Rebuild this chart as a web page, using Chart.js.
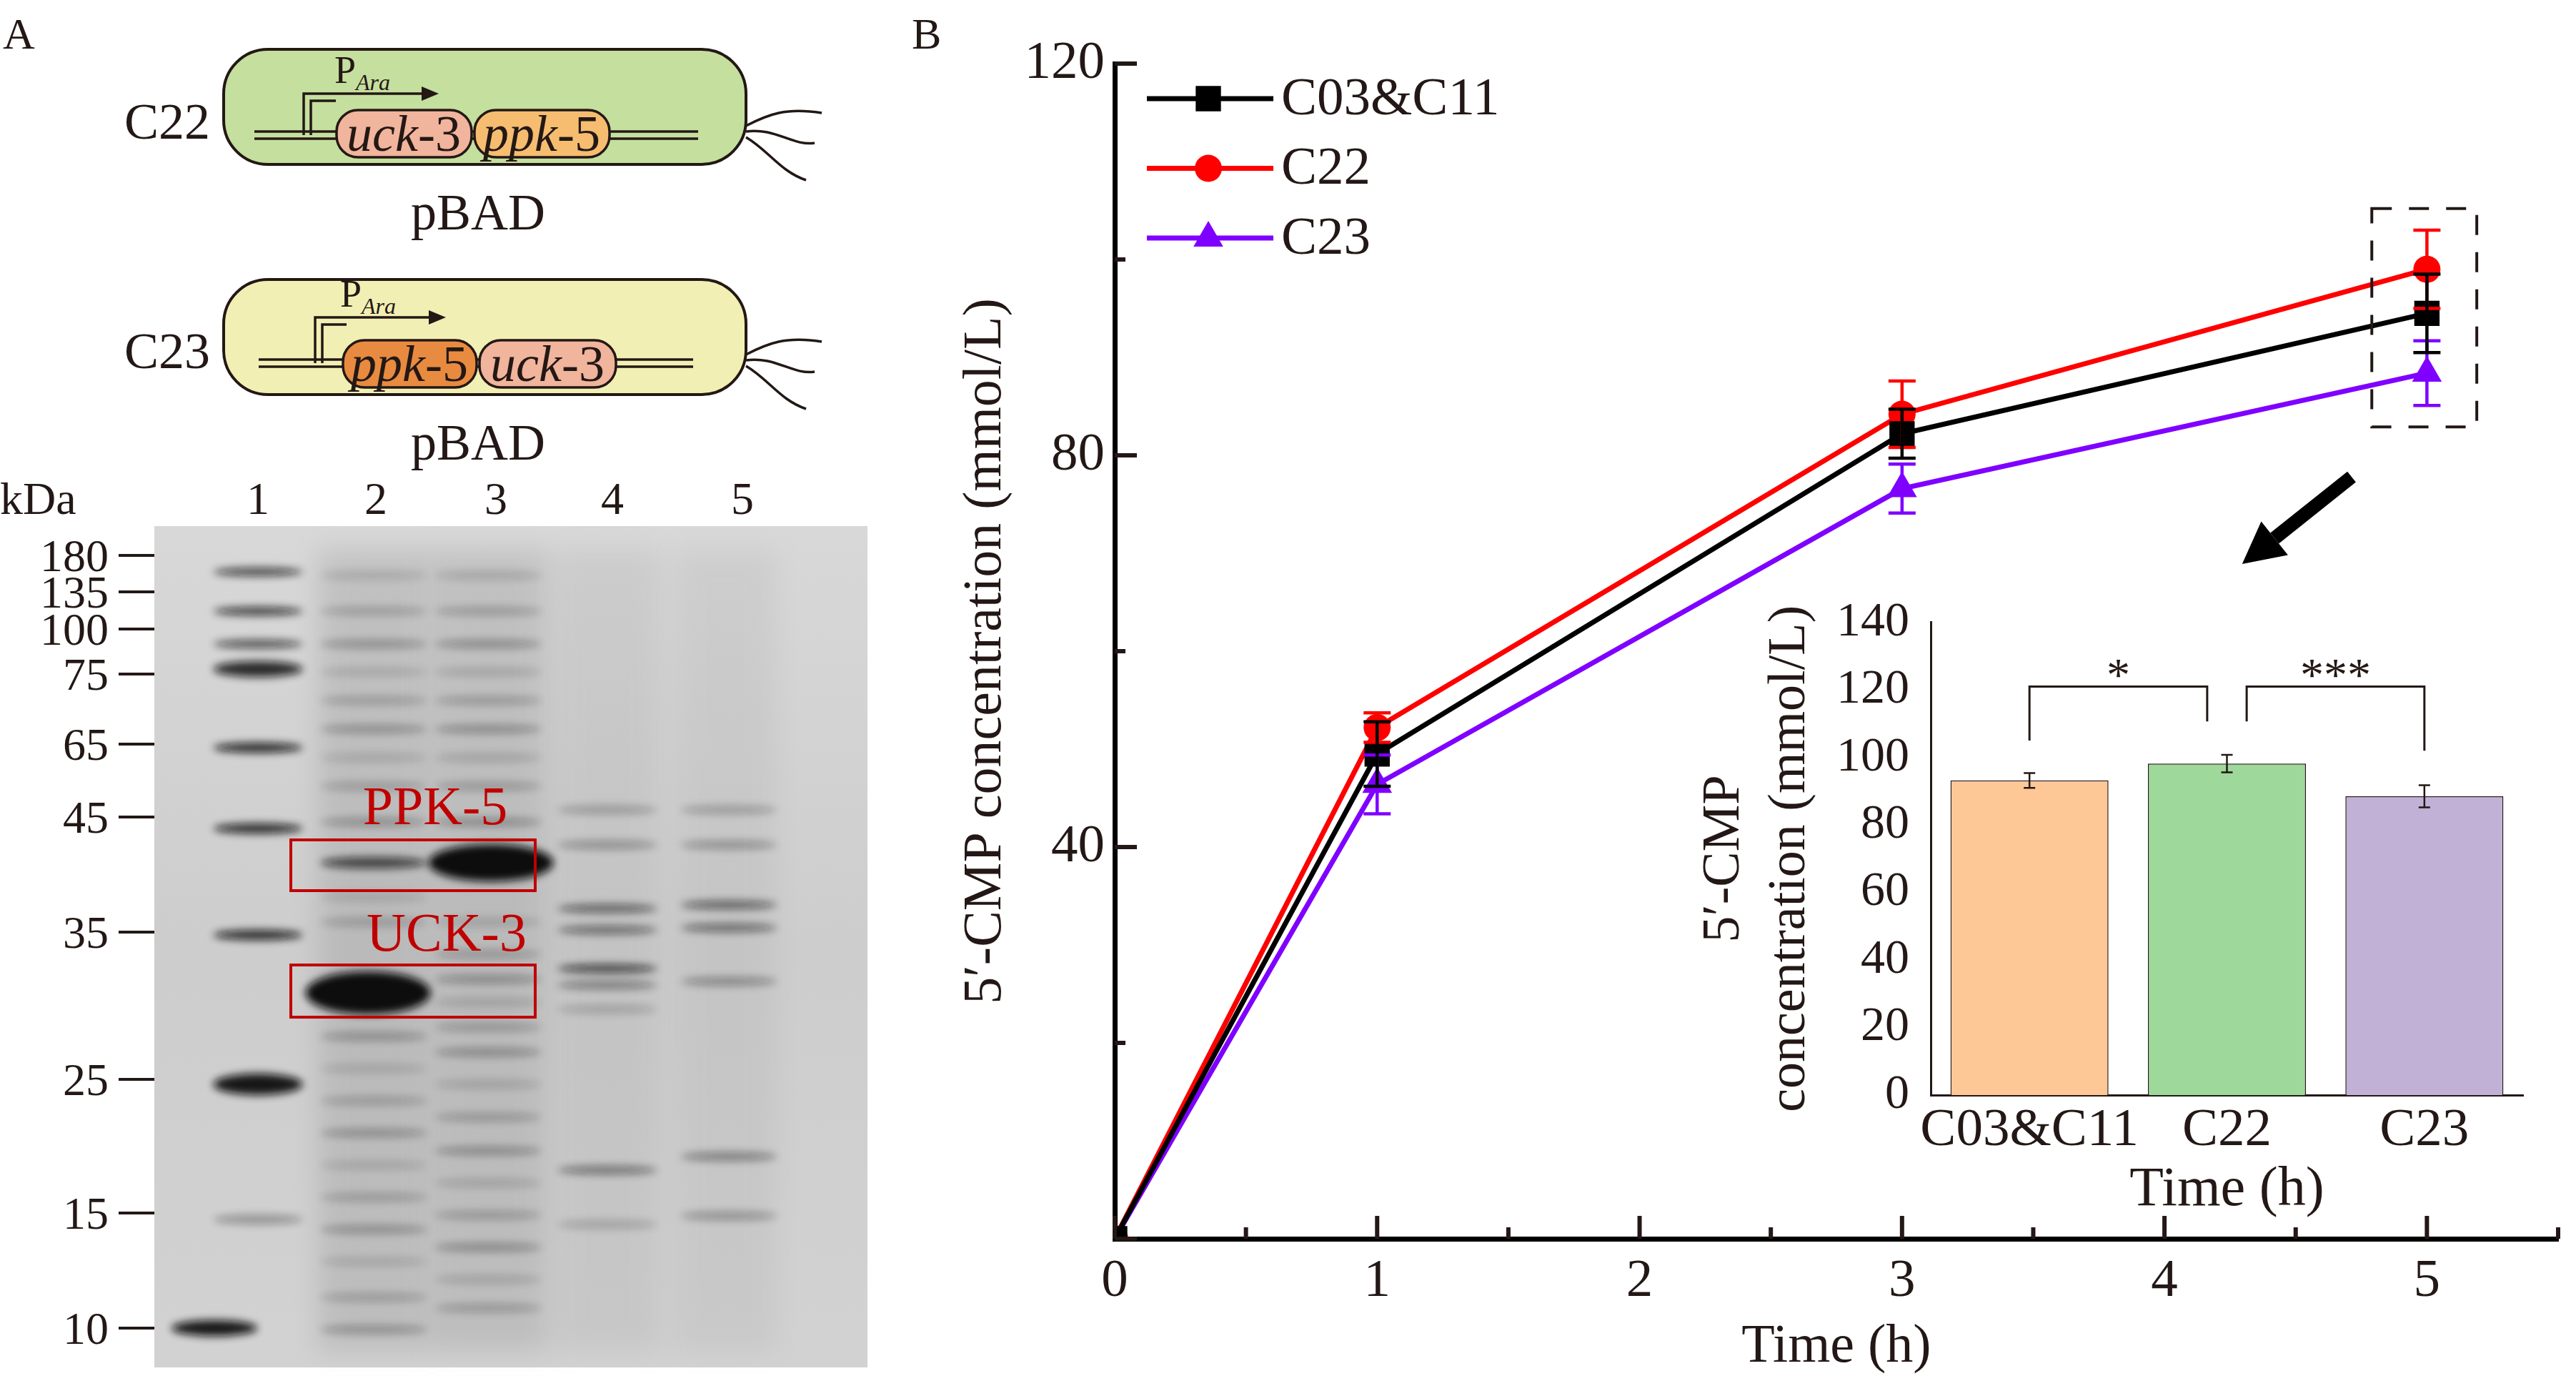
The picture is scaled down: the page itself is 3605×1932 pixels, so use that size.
<!DOCTYPE html>
<html>
<head>
<meta charset="utf-8">
<script src="https://cdn.jsdelivr.net/npm/chart.js@4.4.1/dist/chart.umd.min.js"></script>
<style>
  html, body { margin: 0; padding: 0; background: #fff; }
  body { width: 3605px; height: 1932px; position: relative; overflow: hidden;
         font-family: 'Liberation Serif', 'Times New Roman', serif; color: #231815; }
  #panelA { position: absolute; left: 0; top: 0; }
  #main { position: absolute; left: 1300px; top: 0; }
  #inset { position: absolute; left: 2350px; top: 800px; }
  .tag { position: absolute; font-size: 62px; line-height: 1; }
</style>
</head>
<body>
<svg id="panelA" width="1300" height="1932" font-family="Liberation Serif, Times New Roman, serif" fill="#231815">
  <defs>
    <filter id="bl" x="-20%" y="-400%" width="140%" height="900%"><feGaussianBlur stdDeviation="6"/></filter>
    <filter id="bl2" x="-20%" y="-5%" width="140%" height="110%"><feGaussianBlur stdDeviation="18"/></filter>
    <linearGradient id="gelg" x1="0" y1="0" x2="0" y2="1">
      <stop offset="0" stop-color="#d8d8d8"/><stop offset="0.5" stop-color="#cdcdcd"/><stop offset="1" stop-color="#d2d2d2"/>
    </linearGradient>
  </defs>

  <!-- C22 construct -->
  <rect x="313" y="69" width="731" height="161" rx="62" fill="#c5df9e" stroke="#231815" stroke-width="4"/>
  <text x="294" y="194" font-size="72" text-anchor="end">C22</text>
  <g stroke="#231815" stroke-width="3.5" fill="none">
    <line x1="356" y1="184" x2="977" y2="184"/><line x1="356" y1="194" x2="977" y2="194"/>
    <path d="M425 189 V131 H592"/><path d="M435 189 V141 H470"/>
    <path d="M1044 176 C1075 160 1100 150 1150 158 M1044 184 C1085 178 1110 205 1140 200 M1044 192 C1075 210 1092 240 1128 252"/>
  </g>
  <path d="M590 121 L614 131 L590 141 Z"/>
  <text x="468" y="116" font-size="54">P<tspan font-size="32" font-style="italic" dy="10">Ara</tspan></text>
  <rect x="471" y="154" width="189" height="66" rx="30" fill="#f1b49c" stroke="#231815" stroke-width="3.5"/>
  <text x="565" y="211" font-size="72" text-anchor="middle"><tspan font-style="italic">uck</tspan>-3</text>
  <rect x="664" y="154" width="189" height="66" rx="30" fill="#f6bd70" stroke="#231815" stroke-width="3.5"/>
  <text x="758" y="211" font-size="72" text-anchor="middle"><tspan font-style="italic">ppk</tspan>-5</text>
  <text x="669" y="321" font-size="72" text-anchor="middle">pBAD</text>

  <!-- C23 construct -->
  <rect x="313" y="391" width="731" height="161" rx="62" fill="#f2efb4" stroke="#231815" stroke-width="4"/>
  <text x="294" y="515" font-size="72" text-anchor="end">C23</text>
  <g stroke="#231815" stroke-width="3.5" fill="none">
    <line x1="362" y1="503" x2="970" y2="503"/><line x1="362" y1="513" x2="970" y2="513"/>
    <path d="M441 508 V444 H602"/><path d="M451 508 V454 H485"/>
    <path d="M1044 496 C1075 480 1100 470 1150 478 M1044 504 C1085 498 1110 525 1140 520 M1044 512 C1075 530 1092 560 1128 572"/>
  </g>
  <path d="M600 434 L624 444 L600 454 Z"/>
  <text x="476" y="429" font-size="54">P<tspan font-size="32" font-style="italic" dy="10">Ara</tspan></text>
  <rect x="480" y="476" width="187" height="66" rx="30" fill="#e88b40" stroke="#231815" stroke-width="3.5"/>
  <text x="573" y="533" font-size="72" text-anchor="middle"><tspan font-style="italic">ppk</tspan>-5</text>
  <rect x="671" y="476" width="191" height="66" rx="30" fill="#f1b49c" stroke="#231815" stroke-width="3.5"/>
  <text x="766" y="533" font-size="72" text-anchor="middle"><tspan font-style="italic">uck</tspan>-3</text>
  <text x="669" y="643" font-size="72" text-anchor="middle">pBAD</text>

  <!-- gel -->
  <text x="0" y="719" font-size="64">kDa</text>
  <g font-size="64" text-anchor="middle">
    <text x="361" y="719">1</text><text x="526" y="719">2</text><text x="694" y="719">3</text>
    <text x="857" y="719">4</text><text x="1039" y="719">5</text>
  </g>
  <rect x="216" y="736" width="998" height="1177" fill="url(#gelg)"/>
  <g id="gelBands"></g>
  <g id="kdaMarks" font-size="64" text-anchor="end"></g>
  <rect x="407" y="1175" width="342" height="71" fill="none" stroke="#c00000" stroke-width="4"/>
  <rect x="407" y="1350" width="342" height="73" fill="none" stroke="#c00000" stroke-width="4"/>
  <text x="609" y="1153" font-size="76" text-anchor="middle" fill="#c00000">PPK-5</text>
  <text x="625" y="1330" font-size="76" text-anchor="middle" fill="#c00000">UCK-3</text>
</svg>
<div class="tag" style="left:4px;top:16px">A</div>
<div class="tag" style="left:1276px;top:16px">B</div>
<canvas id="main" width="2305" height="1932"></canvas>
<canvas id="inset" width="1255" height="960"></canvas>

<script>
// ---- data ----
const timeH = [0, 1, 3, 5];
const seriesNames = ["C03&C11", "C22", "C23"];
const c0311 = [0, 49.5, 82.2, 94.5];
const c0311Err = [0, 3.3, 2.5, 4.0];
const c22 = [0, 52.2, 84.2, 99.0];
const c22Err = [0, 1.5, 3.4, 4.0];
const c23 = [0, 46.4, 76.6, 88.4];
const c23Err = [0, 3.0, 2.5, 3.3];
const yLabelTicks = [40, 80, 120];
const xLabelTicks = [0, 1, 2, 3, 4, 5];

const strainLabels = ["C03&C11", "C22", "C23"];
const at5h = [93.2, 98.2, 88.5];
const at5hErr = [2.2, 2.6, 3.3];

// gel marker sizes (kDa)
const kdaLabels = ["180", "135", "100", "75", "65", "45", "35", "25", "15", "10"];

const ink = "#231815";
const serif = "'Liberation Serif', 'Times New Roman', serif";

// ---- panel A gel: marker labels and blurred bands ----
(function () {
  const ns = "http://www.w3.org/2000/svg";
  const kdaY = [777, 828, 880, 943, 1041, 1143, 1304, 1510, 1697, 1858];
  const marks = document.getElementById("kdaMarks");
  kdaLabels.forEach((lab, i) => {
    const t = document.createElementNS(ns, "text");
    t.setAttribute("x", 152); t.setAttribute("y", kdaY[i] + 22); t.textContent = lab;
    marks.appendChild(t);
    const l = document.createElementNS(ns, "line");
    l.setAttribute("x1", 166); l.setAttribute("x2", 216);
    l.setAttribute("y1", kdaY[i]); l.setAttribute("y2", kdaY[i]);
    l.setAttribute("stroke", ink); l.setAttribute("stroke-width", 4);
    marks.appendChild(l);
  });
  const g = document.getElementById("gelBands");
  function smear(cx, w, op) {
    const r = document.createElementNS(ns, "rect");
    r.setAttribute("x", cx - w / 2); r.setAttribute("y", 770); r.setAttribute("width", w);
    r.setAttribute("height", 1120); r.setAttribute("fill", "#8a8a8a");
    r.setAttribute("opacity", op); r.setAttribute("filter", "url(#bl2)");
    g.appendChild(r);
  }
  function band(cx, y, w, h, op) {
    const r = document.createElementNS(ns, "ellipse");
    r.setAttribute("cx", cx); r.setAttribute("cy", y);
    r.setAttribute("rx", w / 2); r.setAttribute("ry", h / 2);
    r.setAttribute("fill", "#111");
    r.setAttribute("opacity", op); r.setAttribute("filter", "url(#bl)");
    g.appendChild(r);
  }
  smear(525, 160, 0.28); smear(685, 160, 0.28); smear(850, 150, 0.14); smear(1015, 140, 0.12);
  [[800, 12, .7], [855, 12, .75], [901, 12, .65], [936, 22, .85], [1046, 14, .85],
   [1159, 14, .85], [1308, 14, .85], [1517, 30, .95], [1706, 14, .3]].forEach(b => band(361, b[0], 125, b[1], b[2]));
  band(300, 1858, 120, 22, .95);
  [805, 855, 901, 940, 980, 1020, 1060, 1100, 1150, 1255, 1290, 1450, 1495,
   1540, 1585, 1630, 1675, 1720, 1765, 1815, 1860].forEach((y, i) => band(523, y, 150, 12, 0.14 + (i % 3) * 0.07));
  band(523, 1207, 150, 16, .7);
  band(515, 1389, 175, 60, 1);
  [805, 855, 901, 940, 980, 1020, 1060, 1100, 1150, 1290, 1335, 1370, 1402, 1437, 1472,
   1517, 1563, 1610, 1655, 1700, 1745, 1790, 1830].forEach((y, i) => band(683, y, 150, 12, 0.16 + (i % 3) * 0.07));
  band(687, 1207, 175, 52, 1);
  [[1133, .25], [1182, .3], [1271, .55], [1301, .5], [1355, .7], [1378, .4], [1412, .2], [1637, .45], [1713, .2]]
    .forEach(b => band(850, b[0], 140, 12, b[1]));
  [[1133, .25], [1182, .3], [1266, .55], [1298, .5], [1373, .35], [1618, .4], [1701, .3]]
    .forEach(b => band(1020, b[0], 135, 12, b[1]));
})();

// ---- shared helpers ----
function drawMarker(ctx, style, r, x, y, color) {
  ctx.fillStyle = color;
  ctx.beginPath();
  if (style === "rect") {
    const s = r * Math.SQRT1_2;
    ctx.rect(x - s, y - s, 2 * s, 2 * s);
  } else if (style === "circle") {
    ctx.arc(x, y, r, 0, Math.PI * 2);
  } else {
    const a = Math.PI * 2 / 3;
    ctx.moveTo(x, y - r);
    ctx.lineTo(x + Math.sin(a) * r, y - Math.cos(a) * r);
    ctx.lineTo(x + Math.sin(2 * a) * r, y - Math.cos(2 * a) * r);
    ctx.closePath();
  }
  ctx.fill();
}
function seg(ctx, x1, y1, x2, y2) { ctx.moveTo(x1, y1); ctx.lineTo(x2, y2); }

// ---- main line chart ----
function pts(ys) { return timeH.map((t, i) => ({ x: t, y: ys[i] })); }

const lineDefaults = { borderWidth: 7, tension: 0, fill: false, pointBorderWidth: 0, pointHoverRadius: 0 };
const mainSets = [
  { ...lineDefaults, label: seriesNames[0], data: pts(c0311), errors: c0311Err,
    borderColor: "#000000", backgroundColor: "#000000", pointStyle: "rect", pointRadius: 25 },
  { ...lineDefaults, label: seriesNames[1], data: pts(c22), errors: c22Err,
    borderColor: "#ff0000", backgroundColor: "#ff0000", pointStyle: "circle", pointRadius: 19 },
  { ...lineDefaults, label: seriesNames[2], data: pts(c23), errors: c23Err,
    borderColor: "#7f00ff", backgroundColor: "#7f00ff", pointStyle: "triangle", pointRadius: 24 },
];

const mainDecor = {
  id: "mainDecor",
  afterDatasetsDraw(chart) {
    const { ctx, chartArea: a, scales: { x, y } } = chart;
    ctx.save();
    // error bars, dataset 0 on top
    for (let d = chart.data.datasets.length - 1; d >= 0; d--) {
      const ds = chart.data.datasets[d];
      ctx.strokeStyle = ds.borderColor;
      ctx.lineWidth = 4.5;
      ctx.beginPath();
      ds.data.forEach((p, i) => {
        const e = ds.errors[i];
        if (!e) return;
        const px = x.getPixelForValue(p.x);
        const t = y.getPixelForValue(p.y + e), b = y.getPixelForValue(p.y - e);
        seg(ctx, px, t, px, b);
        seg(ctx, px - 19, t, px + 19, t);
        seg(ctx, px - 19, b, px + 19, b);
      });
      ctx.stroke();
    }
    // inward tick marks
    ctx.strokeStyle = ink;
    ctx.lineWidth = 6;
    ctx.beginPath();
    x.ticks.forEach(t => {
      const px = x.getPixelForValue(t.value);
      seg(ctx, px, a.bottom, px, a.bottom - (Number.isInteger(t.value) ? 32 : 16));
    });
    y.ticks.forEach(t => {
      const py = y.getPixelForValue(t.value);
      seg(ctx, a.left, py, a.left + (t.value % 40 === 0 ? 31 : 15), py);
    });
    ctx.stroke();
    // dashed box around the 5 h points
    ctx.setLineDash([28, 24]);
    ctx.lineWidth = 4;
    const bx1 = x.getPixelForValue(4.79), bx2 = x.getPixelForValue(5.19);
    const by1 = y.getPixelForValue(105.2), by2 = y.getPixelForValue(82.9);
    ctx.strokeRect(bx1, by1, bx2 - bx1, by2 - by1);
    ctx.setLineDash([]);
    // arrow pointing to the inset
    const tx = x.getPixelForValue(4.713), ty = y.getPixelForValue(77.8);
    const hx = x.getPixelForValue(4.296), hy = y.getPixelForValue(68.9);
    const ang = Math.atan2(hy - ty, hx - tx);
    const hl = 58, hw = 30;
    const bxp = hx - Math.cos(ang) * hl, byp = hy - Math.sin(ang) * hl;
    ctx.lineWidth = 19;
    ctx.strokeStyle = "#000";
    ctx.beginPath(); seg(ctx, tx, ty, bxp, byp); ctx.stroke();
    ctx.fillStyle = "#000";
    ctx.beginPath();
    ctx.moveTo(hx, hy);
    ctx.lineTo(bxp + Math.sin(ang) * hw, byp - Math.cos(ang) * hw);
    ctx.lineTo(bxp - Math.sin(ang) * hw, byp + Math.cos(ang) * hw);
    ctx.closePath(); ctx.fill();
    // legend
    ctx.font = "75px " + serif;
    ctx.textBaseline = "middle";
    ctx.textAlign = "left";
    chart.data.datasets.forEach((ds, i) => {
      const ly = a.top + 49 + i * 97.5;
      ctx.strokeStyle = ds.borderColor; ctx.lineWidth = 7;
      ctx.beginPath(); seg(ctx, a.left + 45, ly, a.left + 222, ly); ctx.stroke();
      drawMarker(ctx, ds.pointStyle, ds.pointRadius, a.left + 131, ly, ds.backgroundColor);
      ctx.fillStyle = ink;
      ctx.fillText(ds.label, a.left + 233, ly + 2);
    });
    ctx.restore();
  }
};

new Chart(document.getElementById("main"), {
  type: "line",
  data: { datasets: mainSets },
  options: {
    responsive: false,
    devicePixelRatio: 1,
    animation: false,
    layout: { padding: { top: 89, right: 3, left: 0, bottom: 0 } },
    plugins: { legend: { display: false }, tooltip: { enabled: false } },
    scales: {
      x: {
        type: "linear", min: 0, max: 5.5,
        afterFit: (s) => { s.height = 199; },
        grid: { display: false, drawTicks: false },
        border: { display: true, width: 7, color: "#000" },
        ticks: {
          stepSize: 0.5, autoSkip: false, maxRotation: 0, padding: 15, color: ink,
          font: { family: serif, size: 75 },
          callback: (v) => (xLabelTicks.includes(v) ? v : ""),
        },
        title: { display: true, text: "Time (h)", color: ink,
                 font: { family: serif, size: 76, lineHeight: 1.2 }, padding: { top: 0, bottom: 1 } },
      },
      y: {
        min: 0, max: 120,
        afterFit: (s) => { s.width = 260; },
        grid: { display: false, drawTicks: false },
        border: { display: true, width: 7, color: "#000" },
        ticks: {
          stepSize: 20, autoSkip: false, padding: 14, color: ink,
          font: { family: serif, size: 75 },
          callback: (v) => (yLabelTicks.includes(v) ? v : ""),
        },
        title: { display: true, text: "5′-CMP concentration (mmol/L)", color: ink,
                 font: { family: serif, size: 76, lineHeight: 1.2 }, padding: { top: 34, bottom: 0 } },
      },
    },
  },
  plugins: [mainDecor],
});

// ---- inset bar chart (5 h) ----
const insetDecor = {
  id: "insetDecor",
  afterDatasetsDraw(chart) {
    const { ctx, chartArea: a, scales: { x, y } } = chart;
    const ds = chart.data.datasets[0];
    ctx.save();
    ctx.strokeStyle = ink;
    // error bars
    ctx.lineWidth = 2.5;
    ctx.beginPath();
    ds.data.forEach((v, i) => {
      const px = x.getPixelForValue(i);
      const t = y.getPixelForValue(v + at5hErr[i]), b = y.getPixelForValue(v - at5hErr[i]);
      seg(ctx, px, t, px, b); seg(ctx, px - 8, t, px + 8, t); seg(ctx, px - 8, b, px + 8, b);
    });
    ctx.stroke();
    // inward ticks
    ctx.lineWidth = 3;
    ctx.beginPath();
    y.ticks.forEach(t => {
      const py = y.getPixelForValue(t.value);
      seg(ctx, a.left, py, a.left + (t.value % 20 === 0 ? 14 : 7), py);
    });
    strainLabels.forEach((s, i) => {
      const px = x.getPixelForValue(i);
      seg(ctx, px, a.bottom, px, a.bottom - 12);
      if (i > 0) {
        const mx = (px + x.getPixelForValue(i - 1)) / 2;
        seg(ctx, mx, a.bottom, mx, a.bottom - 6);
      }
    });
    // significance brackets
    const step = x.getPixelForValue(1) - x.getPixelForValue(0);
    const brackets = [
      { x1: x.getPixelForValue(0), x2: x.getPixelForValue(1) - 0.1 * step, l: 105, r: 110.7, top: 121, txt: "*" },
      { x1: x.getPixelForValue(1) + 0.1 * step, x2: x.getPixelForValue(2), l: 110.7, r: 102, top: 121, txt: "***" },
    ];
    ctx.lineWidth = 3;
    ctx.beginPath();
    brackets.forEach(b => {
      const ty = y.getPixelForValue(b.top);
      ctx.moveTo(b.x1, y.getPixelForValue(b.l));
      ctx.lineTo(b.x1, ty); ctx.lineTo(b.x2, ty); ctx.lineTo(b.x2, y.getPixelForValue(b.r));
    });
    ctx.stroke();
    ctx.fillStyle = ink;
    ctx.font = "66px " + serif;
    ctx.textAlign = "center";
    ctx.textBaseline = "middle";
    brackets.forEach(b => ctx.fillText(b.txt, (b.x1 + b.x2) / 2, y.getPixelForValue(126) + 12));
    ctx.restore();
  }
};

new Chart(document.getElementById("inset"), {
  type: "bar",
  data: {
    labels: strainLabels,
    datasets: [{
      data: at5h,
      backgroundColor: ["#fdc896", "#9ed89b", "#c1b1d6"],
      borderColor: ink, borderWidth: 1.5,
      barPercentage: 0.8, categoryPercentage: 1,
    }],
  },
  options: {
    responsive: false,
    devicePixelRatio: 1,
    animation: false,
    layout: { padding: { top: 60, right: 74, left: 0, bottom: 0 } },
    plugins: { legend: { display: false }, tooltip: { enabled: false } },
    scales: {
      x: {
        afterFit: (s) => { s.height = 228; },
        grid: { display: false, drawTicks: false },
        border: { display: true, width: 3, color: ink },
        ticks: { padding: 5, autoSkip: false, color: ink, maxRotation: 0, font: { family: serif, size: 75 } },
        title: { display: true, text: "Time (h)", color: ink,
                 font: { family: serif, size: 78, lineHeight: 1.2 }, padding: { top: 0, bottom: 48 } },
      },
      y: {
        min: 0, max: 140,
        afterFit: (s) => { s.width = 352; },
        grid: { display: false, drawTicks: false },
        border: { display: true, width: 3, color: ink },
        ticks: {
          stepSize: 10, autoSkip: false, padding: 30, color: ink,
          font: { family: serif, size: 68 },
          callback: (v) => (v % 20 === 0 ? v : ""),
        },
        title: { display: true, text: ["5′-CMP", "concentration (mmol/L)"], color: ink,
                 font: { family: serif, size: 74, lineHeight: 1.24 }, padding: { top: 18, bottom: 0 } },
      },
    },
  },
  plugins: [insetDecor],
});
</script>
</body>
</html>
